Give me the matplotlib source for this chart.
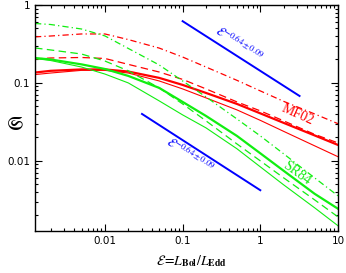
import matplotlib
matplotlib.use("Agg")
import matplotlib.pyplot as plt
from matplotlib.ticker import LogLocator, NullFormatter

plt.rcParams["mathtext.fontset"] = "stix"

# Eddington ratio grid the curves were read at
eddington_ratio = [0.00126, 0.002, 0.005, 0.01, 0.02, 0.05, 0.1, 0.2, 0.5, 1, 2, 5, 10]

# MF02 (red) curves
mf02_dashdot = [0.39, 0.40, 0.425, 0.425, 0.36, 0.28, 0.215, 0.16, 0.108, 0.079, 0.058, 0.040, 0.030]
mf02_dashed = [0.203, 0.209, 0.212, 0.206, 0.173, 0.138, 0.111, 0.0838, 0.0571, 0.0438, 0.0326, 0.0219, 0.0170]
mf02_thick = [0.136, 0.143, 0.149, 0.149, 0.140, 0.116, 0.0943, 0.0744, 0.0538, 0.0407, 0.0307, 0.0212, 0.0160]
mf02_thin = [0.128, 0.134, 0.145, 0.145, 0.134, 0.106, 0.0838, 0.0643, 0.0451, 0.0331, 0.0239, 0.0156, 0.0113]

# SR84 (green) curves
sr84_dashdot = [0.579, 0.562, 0.492, 0.401, 0.277, 0.170, 0.106, 0.0662, 0.0345, 0.0209, 0.0123, 0.00605, 0.00356]
sr84_dashed = [0.281, 0.265, 0.235, 0.191, 0.143, 0.0863, 0.0538, 0.0326, 0.0165, 0.0100, 0.00605, 0.00316, 0.00191]
sr84_thick = [0.209, 0.200, 0.173, 0.151, 0.123, 0.0863, 0.0571, 0.0377, 0.0209, 0.0125, 0.00745, 0.00378, 0.00243]
sr84_thin = [0.206, 0.194, 0.160, 0.130, 0.100, 0.0588, 0.0389, 0.0265, 0.0143, 0.00838, 0.00492, 0.00250, 0.00147]

# power-law guides, slope -0.64
guide_upper_x = [0.1, 3.2]
guide_upper_y = [0.62, 0.068]
guide_lower_x = [0.03, 1.0]
guide_lower_y = [0.04, 0.0042]

RED = "#ff0000"
GREEN = "#11ee11"
BLUE = "#0000ff"

fig = plt.figure(figsize=(3.46, 2.73), dpi=100)
ax = fig.add_axes([35 / 346, 1 - 231 / 273, 303 / 346, 226 / 273])

ax.plot(eddington_ratio, mf02_dashdot, color=RED, lw=0.9, dashes=(5, 2.5, 1, 2.5))
ax.plot(eddington_ratio, mf02_dashed, color=RED, lw=0.9, dashes=(6, 3.5))
ax.plot(eddington_ratio, mf02_thick, color=RED, lw=1.6)
ax.plot(eddington_ratio, mf02_thin, color=RED, lw=0.8)

ax.plot(eddington_ratio, sr84_dashdot, color=GREEN, lw=0.9, dashes=(5, 2.5, 1, 2.5))
ax.plot(eddington_ratio, sr84_dashed, color=GREEN, lw=0.9, dashes=(6, 3.5))
ax.plot(eddington_ratio, sr84_thick, color=GREEN, lw=1.6)
ax.plot(eddington_ratio, sr84_thin, color=GREEN, lw=0.8)

ax.plot(guide_upper_x, guide_upper_y, color=BLUE, lw=1.4)
ax.plot(guide_lower_x, guide_lower_y, color=BLUE, lw=1.4)

guide_label = r"$\mathcal{E}^{-0.64\pm0.09}$"
ax.text(0.54, 0.32, guide_label, color=BLUE, fontsize=9, rotation=-33,
        ha="center", va="center")
ax.text(0.124, 0.0119, guide_label, color=BLUE, fontsize=9, rotation=-33,
        ha="center", va="center")
ax.text(3.0, 0.039, "MF02", color=RED, fontsize=10, family="Liberation Serif",
        rotation=-24, ha="center", va="center")
ax.text(2.93, 0.0070, "SR84", color=GREEN, fontsize=10, family="Liberation Serif",
        rotation=-36, ha="center", va="center")

ax.set_xscale("log")
ax.set_yscale("log")
ax.set_xlim(10 ** -2.9, 10)
ax.set_ylim(10 ** -2.9, 1)

ax.set_xticks([0.01, 0.1, 1, 10], ["0.01", "0.1", "1", "10"])
ax.set_yticks([0.01, 0.1, 1], ["0.01", "0.1", "1"])
for axis in (ax.xaxis, ax.yaxis):
    axis.set_minor_locator(LogLocator(base=10, subs=range(2, 10), numticks=20))
    axis.set_minor_formatter(NullFormatter())
ax.tick_params(which="both", direction="in", top=True, right=True, labelsize=7.5, width=0.8)
ax.tick_params(which="major", length=5)
ax.tick_params(which="minor", length=2.5)
for spine in ax.spines.values():
    spine.set_linewidth(1.0)

ax.set_xlabel(r"$\mathcal{E}\!=\!L_{\mathbf{Bol}}/L_{\mathbf{Edd}}$", fontsize=10, va="center")
ax.xaxis.set_label_coords(0.515, -0.135)
ax.set_ylabel(r"$\mathfrak{S}$", fontsize=14, rotation=0, va="center", ha="center")
ax.yaxis.set_label_coords(-0.066, 0.47)

fig.savefig("out.png", dpi=100)
